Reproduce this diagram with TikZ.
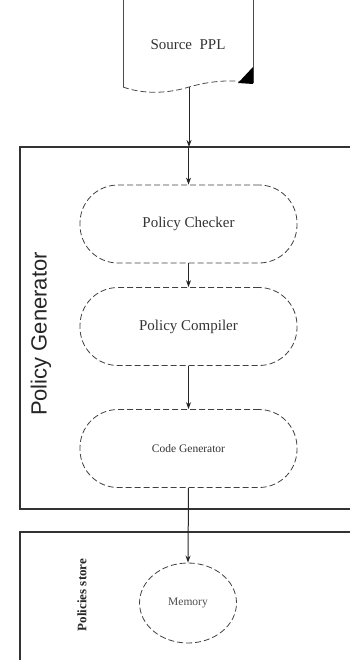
\documentclass[tikz,border=0pt]{standalone}
\usepackage{fontspec}
\setmainfont{Liberation Serif}
\setsansfont{Liberation Sans}
\usetikzlibrary{arrows.meta,shapes.geometric}
\begin{document}
\begin{tikzpicture}[x=1pt,y=-1pt,
  line width=0.8pt,
  frame/.style={draw=black!80, line width=1.2pt},
  dsh/.style={dashed, dash pattern=on 6pt off 3pt},
  stadium/.style={draw=black!75, dsh, line width=0.8pt,
    minimum width=217pt, minimum height=78pt, rounded corners=38pt, inner sep=0pt},
  lbl/.style={font=\fontsize{15}{17}\selectfont, text=black!80},
  small/.style={font=\fontsize{11.5}{13}\selectfont, text=black!80},
  conn/.style={draw=black!85, line width=1pt, -{Stealth[length=7pt,width=5pt]}}]
\useasboundingbox (0,0) rectangle (350,660);
% source document
\draw[draw=black!70, line width=1pt] (123,-5) -- (123,87);
\draw[draw=black!70, line width=1pt] (253,-5) -- (253,83);
\draw[draw=black!70, dsh, line width=0.8pt]
  (123,87) .. controls (145,95) and (170,93) .. (189,87)
  .. controls (210,81) and (232,79) .. (253,83);
\fill[black] (238,83) -- (253,67) -- (253,84) -- cycle;
\node[font=\fontsize{15}{17}\selectfont, text=black!80] (src) at (188,45) {Source\ \ PPL};
\coordinate (docbot) at (189,87);
% policy generator frame
\coordinate (pgtl) at (20,147);
\coordinate (pgtr) at (352,147);
\coordinate (pgbl) at (20,509);
\coordinate (pgbr) at (352,509);
\draw[frame] (pgtr) -- (pgtl) -- (pgbl) -- (pgbr);
\node[rotate=90, font=\sffamily\fontsize{22}{24}\selectfont, text=black!85] (pglabel) at (41,334) {Policy Generator};
% stadiums
\node[stadium] (chk) at (188.5,224) {};
\node[lbl] at (chk) {Policy Checker};
\node[stadium] (cmp) at (188.5,326.5) {};
\node[lbl] at (cmp) {Policy Compiler};
\node[stadium] (gen) at (188.5,448.5) {};
\node[small] at (gen) {Code Generator};
% policies store frame
\coordinate (pstl) at (20,532);
\coordinate (pstr) at (352,532);
\coordinate (psbl) at (20,665);
\draw[frame] (pstr) -- (pstl) -- (psbl);
\node[rotate=90, font=\bfseries\fontsize{13}{15}\selectfont, text=black!85] (pslabel) at (82,595) {Policies store};
\node[ellipse, draw=black!75, dsh, line width=0.8pt,
  minimum width=97pt, minimum height=80pt, inner sep=0pt] (mem) at (188,603) {};
\node[small, text=black!70] at (mem) {Memory};
% connectors
\draw[conn] (docbot) -- (docbot |- pgtl);
\draw[conn] (chk.north |- pgtl) -- (chk.north);
\draw[conn] (chk.south) -- (cmp.north);
\draw[conn] (cmp.south) -- (gen.north);
\draw[conn] (gen.south) -- (mem.north);
\end{tikzpicture}
\end{document}
